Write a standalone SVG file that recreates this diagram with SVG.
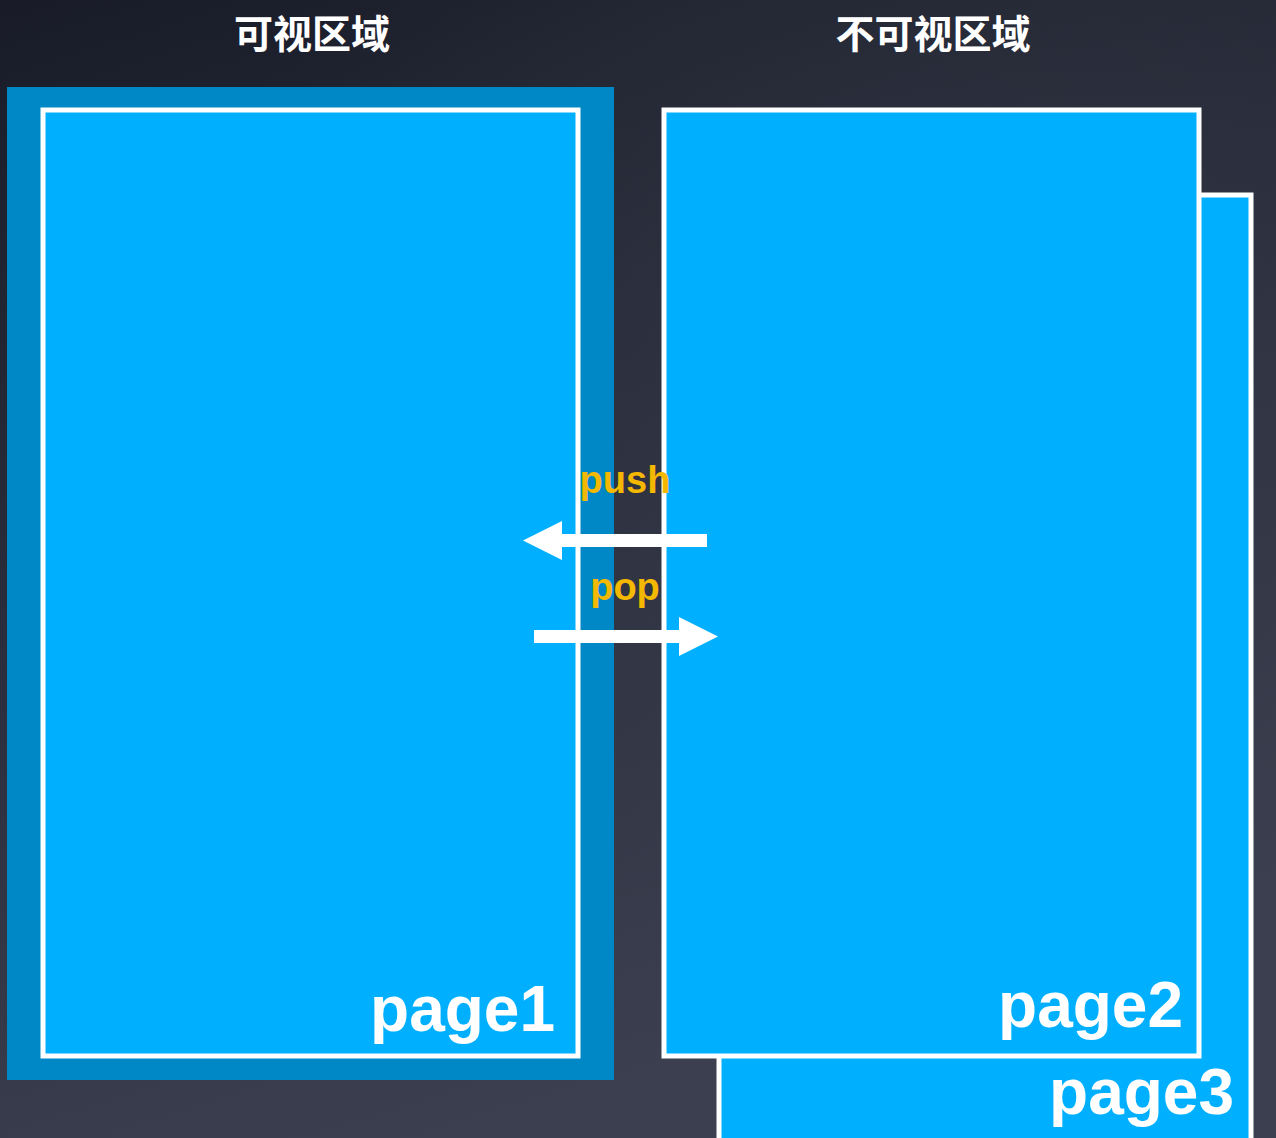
<svg xmlns="http://www.w3.org/2000/svg" width="1276" height="1138" viewBox="0 0 1276 1138">
  <defs>
    <linearGradient id="bg" x1="0" y1="0" x2="0.35" y2="1">
      <stop offset="0" stop-color="#191c28"/>
      <stop offset="0.5" stop-color="#2a2e3c"/>
      <stop offset="1" stop-color="#3b3f4f"/>
    </linearGradient>
    <radialGradient id="glow" cx="0.75" cy="0.35" r="0.6">
      <stop offset="0" stop-color="#3a3e4c" stop-opacity="0.5"/>
      <stop offset="1" stop-color="#3a3e4c" stop-opacity="0"/>
    </radialGradient>
    <style>
      .title { font-family: "Noto Sans CJK SC", "Noto Sans", sans-serif; font-size: 39px; font-weight: 700; fill: #ffffff; text-anchor: middle; }
      .page { fill: #00b0ff; stroke: #ffffff; stroke-width: 5; }
      .plabel { font-family: "Liberation Sans", Arial, sans-serif; font-size: 64px; font-weight: 700; fill: #ffffff; text-anchor: end; }
      .alabel { font-family: "Liberation Sans", Arial, sans-serif; font-size: 38px; font-weight: 700; fill: #f5b800; text-anchor: middle; }
      .arrow { fill: #ffffff; }
    </style>
  </defs>
  <rect x="0" y="0" width="1276" height="1138" fill="url(#bg)"/>
  <rect x="0" y="0" width="1276" height="1138" fill="url(#glow)"/>

  <g id="title-visible"><text class="title" x="312" y="48">可视区域</text></g>
  <g id="title-invisible"><text class="title" x="933" y="48">不可视区域</text></g>

  <g id="visible-frame"><rect x="7" y="87" width="607" height="993" fill="#0088c6"/></g>

  <g id="page1">
    <rect class="page" x="43" y="110" width="535" height="946"/>
    <text class="plabel" x="555" y="1031">page1</text>
  </g>

  <g id="page3">
    <rect class="page" x="719" y="195" width="532" height="980"/>
    <text class="plabel" x="1234" y="1114">page3</text>
  </g>

  <g id="page2">
    <rect class="page" x="664" y="110" width="535" height="946"/>
    <text class="plabel" x="1183" y="1027">page2</text>
  </g>

  <g id="connectors">
    <g id="push">
      <text class="alabel" x="625" y="493">push</text>
      <polygon class="arrow" points="707,534 562,534 562,521 523,540.5 562,560 562,547 707,547"/>
    </g>
    <g id="pop">
      <text class="alabel" x="625" y="600">pop</text>
      <polygon class="arrow" points="534,630 679,630 679,617 718,636.5 679,656 679,643 534,643"/>
    </g>
  </g>
</svg>
